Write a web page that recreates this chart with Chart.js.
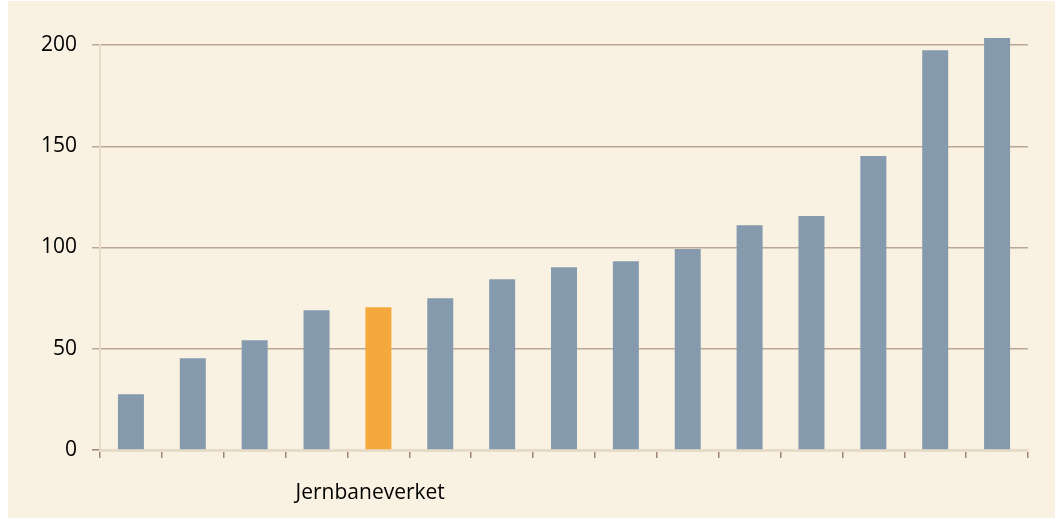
<!DOCTYPE html>
<html>
  <head>
    <meta charset="utf-8"/>
    <style type="text/css">
      body {
        margin: 0px;
        padding: 0px;
        background: #ffffff;
      }
      #container {
        position: absolute;
        left: 8px;
        top: 1px;
        width: 1047px;
        height: 517px;
        background-color: #F9F1E2;
      }
    </style>
    <script src="https://cdn.jsdelivr.net/npm/chart.js@4/dist/chart.umd.min.js"></script>
  </head>
  <body>
    <div id="container"><canvas id="chart"></canvas></div>
    <script>
      var categories = ['', '', '', '', 'Jernbaneverket', '', '', '', '', '', '', '', '', '', ''];
      var values = [27.5, 45.3, 54.2, 69, 70.5, 75, 84.3, 90.3, 93.2, 99.2, 111, 115.5, 145.2, 197.4, 203.4];
      var highlightIndex = 4;
      var yTicks = [0, 50, 100, 150, 200];

      var barColors = values.map(function(v, i) {
        return i === highlightIndex ? '#F5A83C' : '#859AAD';
      });

      var ctx = document.getElementById('chart');
      var chart = new Chart(ctx, {
        type: 'bar',
        data: {
          labels: categories,
          datasets: [{
            data: values,
            backgroundColor: barColors,
            borderWidth: 0,
            barPercentage: 0.42,
            categoryPercentage: 1,
            clip: false
          }]
        },
        options: {
          responsive: true,
          maintainAspectRatio: false,
          animation: false,
          layout: {
            padding: { left: 0, right: 27, top: 44, bottom: 0 }
          },
          plugins: {
            legend: { display: false },
            tooltip: { enabled: false }
          },
          scales: {
            x: {
              afterFit: function(scale) { scale.height = 68; },
              grid: {
                drawOnChartArea: false,
                drawTicks: true,
                tickLength: 8,
                color: '#A08474',
                lineWidth: 1.5
              },
              border: { color: '#E6DCC8', width: 3 },
              ticks: {
                color: '#000000',
                font: { family: 'Open Sans', size: 21 },
                padding: 22,
                maxRotation: 0,
                autoSkip: false,
                // label sits a little left of the bar centre in the original
                callback: function(v, i) {
                  var s = categories[i];
                  return s ? s + '   ' : s;
                }
              }
            },
            y: {
              min: 0,
              max: 200,
              afterFit: function(scale) { scale.width = 92; },
              afterBuildTicks: function(scale) {
                scale.ticks = yTicks.map(function(v) { return { value: v }; });
              },
              grid: {
                drawTicks: true,
                tickLength: 8,
                color: function(c) { return c.tick && c.tick.value === 0 ? '#A08474' : '#BCA794'; },
                lineWidth: 1.5
              },
              border: { color: '#E6DCC8', width: 2 },
              ticks: {
                color: '#000000',
                font: { family: 'Open Sans', size: 21 },
                padding: 15
              }
            }
          }
        }
      });
    </script>
  </body>
</html>
